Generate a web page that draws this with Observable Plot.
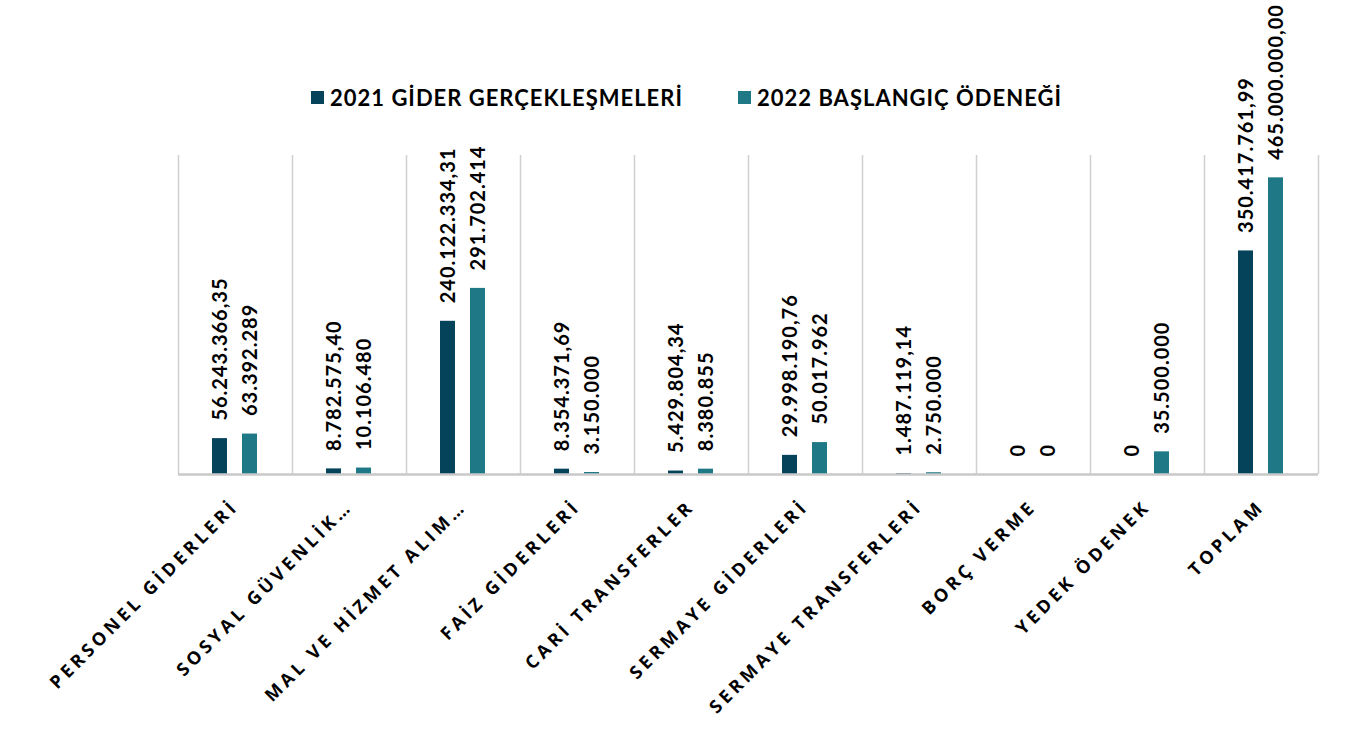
<!DOCTYPE html>
<html>
<head>
<meta charset="utf-8">
<script src="https://cdn.jsdelivr.net/npm/d3@7"></script>
<script src="https://cdn.jsdelivr.net/npm/@observablehq/plot@0.6"></script>
<style>
  html, body { margin: 0; padding: 0; background: #fff; }
  #wrap { position: relative; width: 1365px; height: 738px; }
  #legend { position: absolute; left: 0; top: 82px; width: 1365px; height: 30px;
    font-family: Lato, "Open Sans", sans-serif; font-weight: 700; font-size: 22px; letter-spacing: 1px; color: #000; }
  .item { position: absolute; top: 0; display: flex; align-items: center; height: 30px; white-space: nowrap; }
  .sw { width: 13px; height: 13px; margin-right: 6px; }
</style>
</head>
<body>
<div id="wrap">
  <div id="chart"></div>
  <div id="legend"></div>
</div>
<script>
const categories = [
  "PERSONEL GİDERLERİ",
  "SOSYAL GÜVENLİK…",
  "MAL VE HİZMET ALIM…",
  "FAİZ GİDERLERİ",
  "CARİ TRANSFERLER",
  "SERMAYE GİDERLERİ",
  "SERMAYE TRANSFERLERİ",
  "BORÇ VERME",
  "YEDEK ÖDENEK",
  "TOPLAM"
];
const seriesNames = ["2021 GİDER GERÇEKLEŞMELERİ", "2022 BAŞLANGIÇ ÖDENEĞİ"];
const values2021 = [56243366.35, 8782575.40, 240122334.31, 8354371.69, 5429804.34, 29998190.76, 1487119.14, 0, 0, 350417761.99];
const values2022 = [63392289, 10106480, 291702414, 3150000, 8380855, 50017962, 2750000, 0, 35500000, 465000000];
const labels2021 = ["56.243.366,35", "8.782.575,40", "240.122.334,31", "8.354.371,69", "5.429.804,34", "29.998.190,76", "1.487.119,14", "0", "0", "350.417.761,99"];
const labels2022 = ["63.392.289", "10.106.480", "291.702.414", "3.150.000", "8.380.855", "50.017.962", "2.750.000", "0", "35.500.000", "465.000.000,00"];
const colors = ["#05435b", "#1f7885"];

const d2021 = categories.map((c, i) => ({cat: c, value: values2021[i], label: labels2021[i]}));
const d2022 = categories.map((c, i) => ({cat: c, value: values2022[i], label: labels2022[i]}));

const W = 1365, H = 738, mL = 178, mR = 47, mT = 155, mB = 264;
const step = (W - mL - mR) / categories.length;

const valueFont = {fontFamily: "Lato, sans-serif", fontWeight: 700, fontSize: 20, fill: "#000"};

const plot = Plot.plot({
  width: W, height: H,
  marginLeft: mL, marginRight: mR, marginTop: mT, marginBottom: mB,
  x: {type: "band", domain: categories, padding: 0, axis: null},
  y: {domain: [0, 500e6], axis: null},
  marks: [
    Plot.ruleX(categories, {x: d => d, dx: -step / 2, y1: 0, y2: 500e6, stroke: "#d0d0d0", strokeWidth: 1.5}),
    Plot.ruleX(categories.slice(-1), {x: d => d, dx: step / 2, y1: 0, y2: 500e6, stroke: "#d0d0d0", strokeWidth: 1.5}),
    Plot.barY(d2021, {x: "cat", y: "value", fill: colors[0], insetLeft: 34, insetRight: 65}),
    Plot.barY(d2022, {x: "cat", y: "value", fill: colors[1], insetLeft: 64, insetRight: 35}),
    Plot.ruleY([0], {stroke: "#c9c9c9", strokeWidth: 2.5}),
    Plot.text(d2021, {x: "cat", y: "value", text: "label", dx: -15, dy: -18, rotate: -90, textAnchor: "start", ...valueFont}),
    Plot.text(d2022, {x: "cat", y: "value", text: "label", dx: 15, dy: -18, rotate: -90, textAnchor: "start", ...valueFont}),
    Plot.text(categories, {x: d => d, y: () => 0, text: d => d, dy: 29, rotate: -45, textAnchor: "end",
      fontFamily: "'Open Sans', sans-serif", fontWeight: 700, fontSize: 18, fill: "#000"})
  ]
});
plot.style.overflow = "visible";
const groups = plot.querySelectorAll("g[aria-label='text']");
groups.forEach((g, i) => { g.style.letterSpacing = i < 2 ? "1px" : "3.8px"; });
document.getElementById("chart").appendChild(plot);

const legend = document.getElementById("legend");
const lefts = [311, 738];
seriesNames.forEach((name, i) => {
  const it = document.createElement("div");
  it.className = "item";
  it.style.left = lefts[i] + "px";
  it.innerHTML = `<div class="sw" style="background:${colors[i]}"></div><span>${name}</span>`;
  legend.appendChild(it);
});
</script>
</body>
</html>
